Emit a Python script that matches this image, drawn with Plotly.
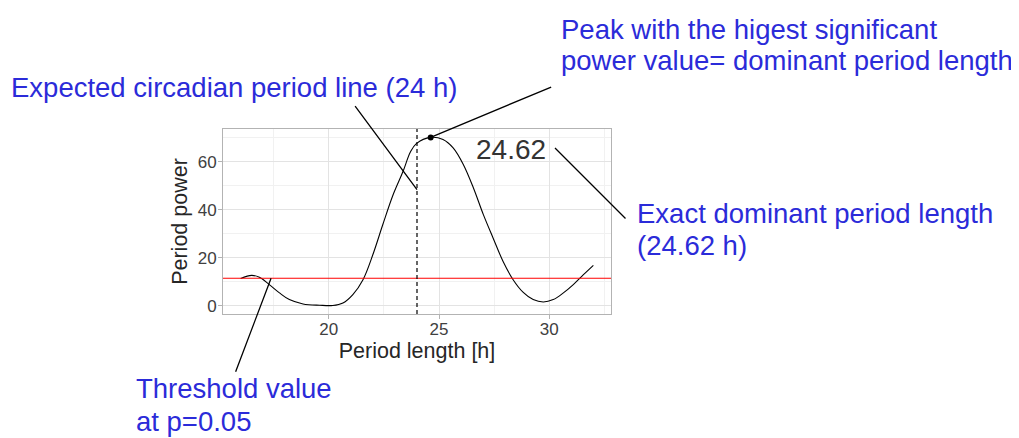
import plotly.graph_objects as go

# periodogram
period = [16.0, 16.5, 16.85, 17.3, 17.76, 18.21, 18.83, 19.58, 20.18, 20.64,
          21.09, 21.55, 22.0, 22.45, 22.92, 23.37, 23.7, 23.97, 24.62, 25.18,
          25.64, 26.1, 26.56, 27.01, 27.45, 27.9, 28.36, 28.82, 29.27, 29.73,
          30.18, 30.64, 31.09, 31.55, 32.0]
power = [11.3, 12.6, 11.8, 8.75, 5.3, 2.5, 0.7, 0.15, 0.05, 1.1,
         4.6, 10.8, 21.3, 33.8, 46.3, 56.0, 64.0, 67.5, 70.1, 69.2,
         65.7, 58.8, 49.0, 37.9, 28.2, 18.5, 10.8, 5.5, 2.5, 1.5,
         2.5, 5.3, 8.75, 12.9, 16.8]

threshold = 11.4
expected_period = 24
peak_period = 24.62
peak_power = 70.1

x_ticks = [20, 25, 30]
y_ticks = [0, 20, 40, 60]

BLUE = "#2b2bd9"
SANS = "Liberation Sans, Arial, sans-serif"

# plot area on screen (page body has an 8px margin)
PAGE = 8
L, T, W, H = 223, 129, 388, 185


def px(x):
    return (x - L) / W


def py(y):
    return (T + H - y) / H


fig = go.Figure()

fig.add_trace(go.Scatter(x=period, y=power, mode="lines", line_shape="spline",
                         line=dict(color="black", width=1.1), hoverinfo="skip"))
fig.add_hline(y=threshold, line=dict(color="#ff0000", width=1.2))
fig.add_vline(x=expected_period,
              line=dict(color="black", width=1.2, dash="4px,3px"))
fig.add_trace(go.Scatter(x=[peak_period], y=[peak_power], mode="markers",
                         marker=dict(color="black", size=6)))

fig.add_annotation(x=px(511), y=py(149), xref="paper", yref="paper",
                   text=f"{peak_period:.2f}", showarrow=False,
                   xanchor="center", yanchor="middle",
                   font=dict(family=SANS, size=28, color="#333333"))

# callout lines: tip in data units, tail offset in pixels
callouts = [
    (expected_period, 48.3, -63, -85),
    (peak_period, peak_power, 122, -51),
    (30.26, 65.7, 72, 72),
    (17.38, threshold, -36, 95),
]
for cx, cy, ax, ay in callouts:
    fig.add_annotation(x=cx, y=cy, ax=ax, ay=ay, text="", showarrow=True,
                       arrowhead=0, arrowwidth=1.3, arrowcolor="black",
                       standoff=0, startstandoff=0)

labels = [
    ("Expected circadian period line (24 h)", 9, 87.5),
    ("Peak with the higest significant", 559, 29),
    ("power value= dominant period length", 559, 60),
    ("Exact dominant period length", 635, 213),
    ("(24.62 h)", 635, 245),
    ("Threshold value", 134, 388),
    ("at p=0.05", 134, 421.5),
]
for txt, lx, ly in labels:
    fig.add_annotation(x=px(lx), y=py(ly), xref="paper", yref="paper", text=txt,
                       showarrow=False, xanchor="left", yanchor="middle",
                       font=dict(family=SANS, size=27.5, color=BLUE))

axis_common = dict(showline=True, linecolor="#b3b3b3", linewidth=1, mirror=True,
                   ticks="outside", ticklen=4, tickcolor="#b3b3b3",
                   showgrid=True, gridcolor="#e3e3e3", gridwidth=1, zeroline=False,
                   tickfont=dict(family=SANS, size=17, color="#404040"))

fig.update_xaxes(range=[15.2, 32.8], tickvals=x_ticks, ticklabelstandoff=-4,
                 minor=dict(dtick=2.5, showgrid=True, gridcolor="#f1f1f1", ticks=""),
                 title=dict(text="Period length [h]", standoff=3,
                            font=dict(family=SANS, size=21.5, color="#262626")),
                 **axis_common)
fig.update_yaxes(range=[-3.5, 73.6], tickvals=y_ticks, ticklabelstandoff=-2,
                 minor=dict(dtick=10, showgrid=True, gridcolor="#f1f1f1", ticks=""),
                 title=dict(text="Period power", standoff=4,
                            font=dict(family=SANS, size=21.5, color="#262626")),
                 **axis_common)

fig.update_layout(width=1019, height=438, showlegend=False,
                  plot_bgcolor="white", paper_bgcolor="white",
                  margin=dict(l=L - PAGE, r=1019 - (L - PAGE) - W,
                              t=T - PAGE, b=438 - (T - PAGE) - H))

fig.write_html("out.html")
